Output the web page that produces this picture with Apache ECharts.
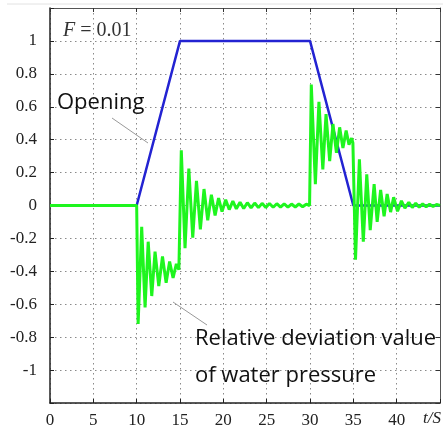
<!DOCTYPE html>
<html>
<head>
<meta charset="utf-8">
<script src="https://cdn.jsdelivr.net/npm/echarts@6/dist/echarts.min.js"></script>
<style>
  html, body { margin: 0; padding: 0; background: #fff; }
  #main { width: 443px; height: 430px; }
</style>
</head>
<body>
<div id="main"></div>
<script>
// x axis ticks and y axis labels
var xTicks = [0, 5, 10, 15, 20, 25, 30, 35, 40];
var yTicks = [-1, -0.8, -0.6, -0.4, -0.2, 0, 0.2, 0.4, 0.6, 0.8, 1];

// opening of the gate
var openingT = [0, 10, 15, 30, 35, 45];
var openingV = [0, 0, 1, 1, 0, 0];

// relative deviation of water pressure, read peak by peak
var pressT = [0, 10, 10.17, 10.58, 10.97, 11.33, 11.74, 12.12, 12.55, 12.98, 13.4, 13.8, 14.2, 14.58, 14.87,
  15.15, 15.58, 16.02, 16.47, 16.9, 17.35, 17.77, 18.2, 18.62, 19.05, 19.45, 19.85, 20.27, 20.68,
  21.1, 21.5, 21.93, 22.35, 22.77, 23.2, 23.62, 24.05, 24.47, 24.9, 25.32, 25.75, 26.17, 26.6,
  27.02, 27.45, 27.87, 28.3, 28.72, 29.15, 29.57, 29.95,
  30.15, 30.62, 31.03, 31.48, 31.85, 32.27, 32.65, 33.05, 33.42, 33.8, 34.17, 34.5, 34.8, 34.95,
  35.25, 35.7, 36.15, 36.55, 36.95, 37.4, 37.75, 38.15, 38.55, 38.9, 39.3, 39.65, 40.1, 40.55,
  40.95, 41.4, 41.8, 42.2, 42.6, 43.0, 43.4, 43.8, 44.2, 44.6, 45];
var pressV = [0, 0, -0.72, -0.13, -0.62, -0.22, -0.55, -0.28, -0.49, -0.31, -0.47, -0.34, -0.44, -0.355, -0.39,
  0.335, -0.26, 0.225, -0.195, 0.15, -0.145, 0.1, -0.09, 0.065, -0.06, 0.045, -0.037, 0.035, -0.025,
  0.026, -0.02, 0.02, -0.018, 0.017, -0.015, 0.015, -0.013, 0.013, -0.012, 0.012, -0.011, 0.011, -0.01,
  0.01, -0.01, 0.009, -0.009, 0.009, -0.008, 0.008, 0,
  0.735, 0.13, 0.63, 0.22, 0.555, 0.27, 0.495, 0.32, 0.475, 0.35, 0.455, 0.37, 0.41, 0.38,
  -0.33, 0.28, -0.22, 0.19, -0.15, 0.13, -0.1, 0.095, -0.065, 0.07, -0.04, 0.05, -0.035, 0.028,
  -0.016, 0.02, -0.012, 0.014, -0.01, 0.01, -0.008, 0.008, -0.006, 0.006, 0];

function pairs(t, v) {
  var out = [];
  for (var i = 0; i < t.length; i++) out.push([t[i], v[i]]);
  return out;
}

var myChart = echarts.init(document.getElementById('main'));

var labelFont = { fontFamily: 'Liberation Serif', fontSize: 17, color: '#222' };
var gridLine = { show: true, lineStyle: { color: '#8a8a8a', width: 1, type: [1.5, 3.5] } };

var option = {
  animation: false,
  grid: { left: 50, top: 8, width: 394, height: 395 },
  xAxis: [{
    type: 'value', min: 0, max: 45, interval: 5,
    axisLine: { show: true, onZero: false, lineStyle: { color: '#222', width: 1.5 } },
    axisTick: { show: true, inside: true, length: 4, lineStyle: { color: '#222' } },
    axisLabel: Object.assign({
      margin: 9,
      formatter: function (v) { return xTicks.indexOf(v) >= 0 ? String(v) : ''; }
    }, labelFont),
    splitLine: gridLine
  }, {
    type: 'value', position: 'top', min: 0, max: 45, interval: 5,
    axisLine: { show: true, onZero: false, lineStyle: { color: '#555', width: 1 } },
    axisTick: { show: true, inside: true, length: 4, lineStyle: { color: '#333' } },
    axisLabel: { show: false },
    splitLine: { show: false }
  }],
  yAxis: [{
    type: 'value', min: -1.2, max: 1.2, interval: 0.2,
    axisLine: { show: true, onZero: false, lineStyle: { color: '#222', width: 1.5 } },
    axisTick: { show: true, inside: true, length: 4, lineStyle: { color: '#222' } },
    axisLabel: Object.assign({
      margin: 13,
      formatter: function (v) {
        var r = Math.round(v * 10) / 10;
        return yTicks.indexOf(r) >= 0 ? String(r) : '';
      }
    }, labelFont),
    splitLine: gridLine
  }, {
    type: 'value', position: 'right', min: -1.2, max: 1.2, interval: 0.2,
    axisLine: { show: true, onZero: false, lineStyle: { color: '#555', width: 1 } },
    axisTick: { show: true, inside: true, length: 4, lineStyle: { color: '#333' } },
    axisLabel: { show: false },
    splitLine: { show: false }
  }],
  series: [{
    name: 'Opening',
    type: 'line',
    data: pairs(openingT, openingV),
    showSymbol: false,
    lineStyle: { color: '#2323d2', width: 2.5 },
    z: 2
  }, {
    name: 'Relative deviation value of water pressure',
    type: 'line',
    data: pairs(pressT, pressV),
    showSymbol: false,
    lineStyle: { color: '#1ef51e', width: 3 },
    z: 3
  }],
  graphic: [
    { type: 'line', shape: { x1: 7, y1: 4, x2: 443, y2: 4 }, style: { stroke: '#e2e2e2', lineWidth: 1 } },
    { type: 'line', shape: { x1: 112, y1: 118, x2: 148, y2: 143 }, style: { stroke: '#999', lineWidth: 1 }, z: 10 },
    { type: 'line', shape: { x1: 173, y1: 302, x2: 207, y2: 325 }, style: { stroke: '#999', lineWidth: 1 }, z: 10 },
    { type: 'text', left: 57, top: 92, z: 10,
      style: { text: 'Opening', font: '22px "Open Sans"', fill: '#111' } },
    { type: 'text', left: 195, top: 328, z: 10,
      style: { text: 'Relative deviation value', font: '22px "Open Sans"', fill: '#111' } },
    { type: 'text', left: 195, top: 365, z: 10,
      style: { text: 'of water pressure', font: '22px "Open Sans"', fill: '#111' } },
    { type: 'text', left: 63, top: 21, z: 10,
      style: {
        text: '{i|F} = 0.01',
        rich: { i: { font: 'italic 20px "Liberation Serif"', fill: '#333' } },
        font: '20px "Liberation Serif"', fill: '#333'
      } },
    { type: 'text', left: 423, top: 410, z: 10,
      style: { text: 't/S', font: 'italic 17px "Liberation Serif"', fill: '#222' } }
  ]
};

myChart.setOption(option);
</script>
</body>
</html>
